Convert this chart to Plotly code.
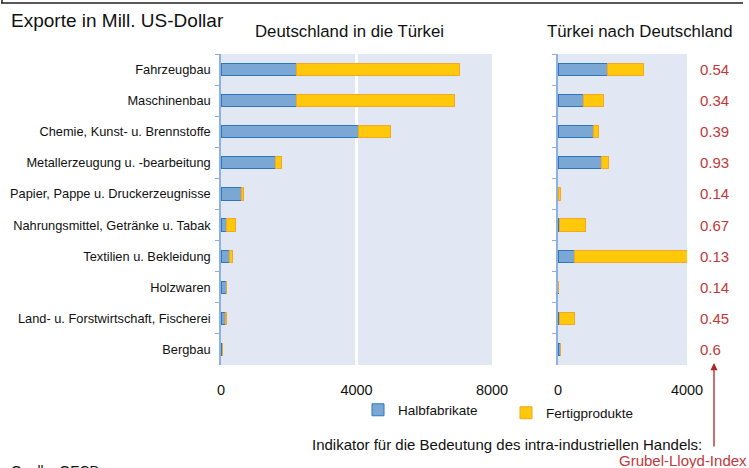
import plotly.graph_objects as go
from plotly.subplots import make_subplots

# Branchen, von oben nach unten
branchen = ["Fahrzeugbau", "Maschinenbau", "Chemie, Kunst- u. Brennstoffe",
            "Metallerzeugung u. -bearbeitung", "Papier, Pappe u. Druckerzeugnisse",
            "Nahrungsmittel, Getränke u. Tabak", "Textilien u. Bekleidung",
            "Holzwaren", "Land- u. Forstwirtschaft, Fischerei", "Bergbau"]

# Deutschland in die Türkei (Mill. US-Dollar)
de_halb = [2235, 2235, 4070, 1615, 600, 150, 265, 165, 130, 50]
de_fertig = [4795, 4645, 940, 185, 70, 290, 80, 10, 35, 5]

# Türkei nach Deutschland (Mill. US-Dollar)
tr_halb = [1545, 800, 1090, 1350, 20, 40, 500, 25, 40, 75]
tr_fertig = [1110, 610, 165, 215, 55, 800, 3620, 0, 470, 0]

# Grubel-Lloyd-Index
gl_index = ["0.54", "0.34", "0.39", "0.93", "0.14", "0.67", "0.13", "0.14", "0.45", "0.6"]

W, H = 749, 468
FONT = "Liberation Sans, Arial, sans-serif"
BLUE, BLUE_LINE = "#7AA7D3", "#2B78C0"
YELLOW, YELLOW_LINE = "#FFC80A", "#F5A623"
RED = "#C0393B"
AXIS_COL = "#8EB1E0"

def px(x):
    return x / W

def py(y):
    return 1 - y / H

fig = make_subplots(rows=1, cols=2)

fig.add_trace(go.Bar(y=branchen, x=de_halb, orientation="h", name="Halbfabrikate",
                     legend="legend",
                     marker=dict(color=BLUE, line=dict(color=BLUE_LINE, width=1))), 1, 1)
fig.add_trace(go.Bar(y=branchen, x=de_fertig, orientation="h", name="Fertigprodukte",
                     legend="legend2",
                     marker=dict(color=YELLOW, line=dict(color=YELLOW_LINE, width=1))), 1, 1)
fig.add_trace(go.Bar(y=branchen, x=tr_halb, orientation="h", name="Halbfabrikate",
                     showlegend=False, cliponaxis=False,
                     marker=dict(color=BLUE, line=dict(color=BLUE_LINE, width=1))), 1, 2)
fig.add_trace(go.Bar(y=branchen, x=tr_fertig, orientation="h", name="Fertigprodukte",
                     showlegend=False, cliponaxis=False,
                     marker=dict(color=YELLOW, line=dict(color=YELLOW_LINE, width=1))), 1, 2)

xcommon = dict(showline=False, zeroline=False, showgrid=True, gridcolor="white",
               gridwidth=3, ticks="", automargin=False, ticklabelstandoff=14,
               tickfont=dict(size=14.5, color="#111"), fixedrange=True)
fig.update_xaxes(domain=[px(221), px(492)], range=[0, 8000], tickvals=[0, 4000, 8000],
                 row=1, col=1, **xcommon)
fig.update_xaxes(domain=[px(558), px(687)], range=[0, 4000], tickvals=[0, 4000],
                 row=1, col=2, **xcommon)

ycommon = dict(domain=[py(365), py(54)], type="category", autorange="reversed",
               showline=True, linecolor=AXIS_COL, linewidth=1.5, ticks="outside",
               tickson="boundaries", ticklen=4, tickcolor=AXIS_COL, showgrid=False,
               automargin=False, zeroline=False, fixedrange=True)
fig.update_yaxes(row=1, col=1, ticklabelstandoff=6,
                 tickfont=dict(size=12.8, color="#111"), **ycommon)
fig.update_yaxes(row=1, col=2, showticklabels=False, **ycommon)

ann = []
ann.append(dict(text="Exporte in Mill. US-Dollar", x=px(9), y=py(21), xanchor="left",
                yanchor="middle", font=dict(size=19, color="#111")))
ann.append(dict(text="Deutschland in die Türkei", x=px(349), y=py(32), xanchor="center",
                yanchor="middle", font=dict(size=16.8, color="#111")))
ann.append(dict(text="Türkei nach Deutschland", x=px(640), y=py(32), xanchor="center",
                yanchor="middle", font=dict(size=16.8, color="#111")))
for b, g in zip(branchen, gl_index):
    ann.append(dict(text=g, x=px(698), y=b, yref="y2", xanchor="left", yanchor="middle",
                    font=dict(size=15, color=RED)))
ann.append(dict(text="Indikator für die Bedeutung des intra-industriellen Handels:",
                x=px(704), y=py(444), xanchor="right", yanchor="middle",
                font=dict(size=15, color="#111")))
ann.append(dict(text="Grubel-Lloyd-Index", x=px(749), y=py(460), xanchor="right",
                yanchor="middle", font=dict(size=15, color=RED)))
ann.append(dict(text="Quelle: OECD", x=px(9), y=py(461), xanchor="left", yanchor="top",
                font=dict(size=14, color="#111")))
ann.append(dict(text="", x=px(714), y=py(363), ax=0, ay=85, showarrow=True,
                arrowhead=2, arrowsize=1.1, arrowwidth=1.3, arrowcolor="#B22222"))
for a in ann:
    a.setdefault("xref", "paper")
    a.setdefault("yref", "paper")
    a.setdefault("showarrow", False)

leg = dict(orientation="h", xanchor="left", yanchor="middle", font=dict(size=13.5),
           bgcolor="rgba(0,0,0,0)", itemclick=False, itemdoubleclick=False)

fig.update_layout(
    width=W, height=H, margin=dict(l=0, r=0, t=0, b=0),
    template="none", barmode="stack", bargap=0.61,
    plot_bgcolor="#E1E8F4", paper_bgcolor="white",
    font=dict(family=FONT, color="#111"),
    annotations=ann,
    showlegend=True,
    legend=dict(x=px(358), y=py(410), **leg),
    legend2=dict(x=px(506), y=py(413), **leg),
    # Rahmenkante oben (Rest eines Kastens ueber der Grafik)
    shapes=[dict(type="line", xref="paper", yref="paper", x0=px(1), x1=px(743),
                 y0=py(3), y1=py(3), layer="above", line=dict(color="#222", width=1.5)),
            dict(type="line", xref="paper", yref="paper", x0=px(2), x1=px(2),
                 y0=py(0), y1=py(3), layer="above", line=dict(color="#222", width=1.5))],
)

# Seitenrand und Scrollbalken des Browsers entfernen, damit die Grafik bei (0,0) beginnt
fig.write_html("out.html", config={"displayModeBar": False},
               post_script="document.body.style.margin='0';"
                           "document.body.style.overflow='hidden';"
                           "document.documentElement.style.overflow='hidden';")
